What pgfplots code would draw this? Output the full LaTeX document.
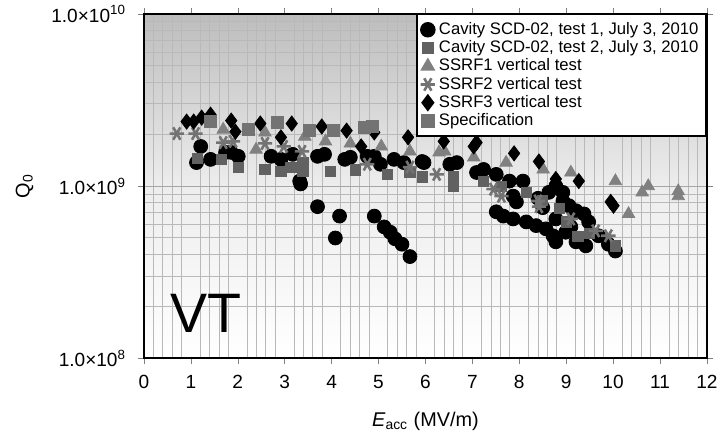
\documentclass[border=0pt]{standalone}
\usepackage{fontspec}
\setmainfont{Liberation Sans}
\usepackage{pgfplots}
\pgfplotsset{compat=1.18}

\begin{document}
\begin{tikzpicture}
\begin{axis}[
    scale only axis,
    width=283.5pt, height=173.5pt,
    xmin=0, xmax=12,
    ymode=log, ymin=1e8, ymax=1e10,
    xtick={0,1,...,12},
    minor x tick num=4,
    ytick={1e8,1e9,1e10},
    yticklabels={1.0×10\textsuperscript{8},1.0×10\textsuperscript{9},1.0×10\textsuperscript{10}},
    /pgf/number format/assume math mode=true,
    tick label style={font=\fontsize{9.6}{11.5}\selectfont},
    xticklabel style={yshift=-2pt},
    yticklabel style={xshift=-2.5pt},
    tick align=outside,
    major tick length=3pt,
    minor tick length=0pt,
    xminorgrids, yminorgrids, ymajorgrids,
    minor grid style={gray!55, line width=0.5pt},
    major grid style={gray!70, line width=0.6pt},
    axis line style={line width=1pt},
    axis background/.style={shade, top color=black!26, bottom color=white, middle color=black!7},
    xlabel={\textit{E}\textsubscript{acc} (MV/m)},
    ylabel={Q\textsubscript{0}},
    label style={font=\fontsize{10}{12}\selectfont},
    xlabel style={at={(axis description cs:0.5,-0.184)}, anchor=center},
    ylabel style={at={(axis description cs:-0.212,0.5)}, anchor=center},
    legend style={at={(1,1)}, anchor=north east, draw=black, line width=0.8pt, fill=white,
        font=\fontsize{8.4}{9}\selectfont, row sep=-2.4pt, inner sep=1.8pt},
    legend cell align=left,
]

% Cavity SCD-02, test 1
\addplot[only marks, mark=*, mark size=3.5pt, black] coordinates {
(1.21,1.70e9) (1.12,1.37e9) (1.42,1.43e9) (1.74,1.57e9) (1.86,1.57e9) (2.01,1.49e9)
(2.71,1.49e9) (2.92,1.43e9) (3.17,1.53e9) (3.70,1.49e9) (3.85,1.53e9) (4.28,1.43e9)
(4.40,1.47e9) (4.76,1.49e9) (4.91,1.49e9) (5.04,1.34e9) (5.33,1.43e9) (5.54,1.37e9)
(5.97,1.37e9) (3.32,1.07e9) (3.34,1.03e9) (3.70,7.6e8) (4.17,6.7e8) (4.08,5.0e8)
(4.91,6.7e8) (5.12,5.8e8) (5.25,5.4e8) (5.35,4.95e8) (5.50,4.6e8) (5.67,3.9e8)
(5.93,1.39e9) (6.52,1.34e9) (6.67,1.37e9) (7.09,1.20e9) (7.24,1.25e9) (7.51,1.17e9)
(7.79,1.07e9) (8.08,1.07e9) (7.87,8.75e8) (7.94,8.1e8) (7.51,7.1e8) (7.66,6.7e8)
(7.87,6.45e8) (8.15,6.2e8) (8.36,5.9e8) (8.57,5.65e8) (8.72,5.15e8) (8.78,4.75e8)
(8.63,9.2e8) (8.78,1.0e9) (8.93,9.2e8) (8.93,8.2e8) (9.06,7.7e8) (9.21,7.2e8)
(9.38,6.9e8) (9.48,6.2e8) (9.69,5.15e8) (9.90,4.6e8) (10.05,4.2e8) (8.78,6.45e8)
(8.99,5.4e8) (9.21,4.75e8) (9.42,4.5e8) (8.50,7.5e8) (8.40,8.5e8) (9.10,5.8e8)
};
\addlegendentry{Cavity SCD-02, test 1, July 3, 2010}

% Cavity SCD-02, test 2
\addplot[only marks, mark=square*, mark size=2.6pt, black!62] coordinates {
(1.14,1.45e9) (1.65,1.43e9) (2.01,1.29e9) (2.58,1.25e9) (2.92,1.22e9) (3.13,1.29e9)
(3.39,1.37e9) (3.39,1.22e9) (3.98,1.22e9) (4.51,1.24e9) (5.19,1.17e9) (5.67,1.20e9)
(5.93,1.13e9) (6.60,1.0e9) (6.60,1.13e9) (7.24,1.07e9) (7.62,1.0e9) (8.15,9.2e8)
(8.50,8.3e8) (8.85,7.4e8) (9.00,6.2e8) (9.25,5.1e8) (9.50,5.3e8) (10.05,4.5e8)
};
\addlegendentry{Cavity SCD-02, test 2, July 3, 2010}

% SSRF1 vertical test
\addplot[only marks, mark=triangle*, mark size=3.6pt, black!50] coordinates {
(1.69,2.13e9) (2.39,1.63e9) (2.58,2.05e9) (3.43,1.94e9) (3.87,1.82e9) (4.40,1.77e9)
(5.06,1.70e9) (5.67,1.59e9) (6.29,1.57e9) (6.41,1.59e9) (7.03,1.47e9) (7.72,1.37e9)
(8.51,1.25e9) (9.10,1.20e9) (10.05,1.07e9) (10.33,6.9e8) (10.62,9.2e8) (10.75,1.0e9)
(11.39,9.35e8) (11.39,8.75e8)
};
\addlegendentry{SSRF1 vertical test}

% SSRF2 vertical test
\addplot[only marks, mark=asterisk, mark size=3.6pt, black!55, line width=1.3pt,
    mark options={rotate=90}] coordinates {
(0.70,2.02e9) (1.10,2.02e9) (1.69,1.79e9) (1.90,1.82e9) (2.58,1.77e9) (2.98,1.70e9)
(3.37,1.59e9) (4.76,1.34e9) (5.67,1.29e9) (6.24,1.17e9) (7.45,9.6e8) (7.62,8.75e8)
(8.40,8.2e8) (8.42,7.6e8) (9.10,6.45e8) (9.63,5.5e8) (9.90,5.15e8)
};
\addlegendentry{SSRF2 vertical test}

% SSRF3 vertical test
\addplot[only marks, mark=diamond*, mark size=3.8pt, black] coordinates {
(0.91,2.37e9) (1.06,2.37e9) (1.23,2.50e9) (1.42,2.60e9) (1.86,2.40e9) (1.95,2.07e9)
(2.48,2.31e9) (2.92,1.92e9) (3.15,2.31e9) (3.79,2.22e9) (4.32,2.10e9) (4.63,1.70e9)
(4.91,2.05e9) (5.63,1.92e9) (6.39,1.82e9) (7.03,1.70e9) (7.09,1.79e9) (7.89,1.55e9)
(8.42,1.39e9) (8.78,1.10e9) (9.27,1.07e9) (9.95,8.1e8) (10.01,7.7e8)
};
\addlegendentry{SSRF3 vertical test}

% Specification
\addplot[only marks, mark=square*, mark size=3pt, black!55] coordinates {
(1.42,2.37e9) (2.22,2.13e9) (2.84,2.34e9) (3.53,2.10e9) (4.04,2.10e9) (4.70,2.19e9)
(4.87,2.22e9)
};
\addlegendentry{Specification}

\node[font=\fontsize{28}{28}\selectfont] at (axis cs:1.33,1.83e8) {VT};
\end{axis}
\pgfresetboundingbox
\path ([shift={(-72.5pt,-40pt)}]current axis.south west) rectangle ([shift={(5.6pt,7pt)}]current axis.north east);
\end{tikzpicture}
\end{document}
